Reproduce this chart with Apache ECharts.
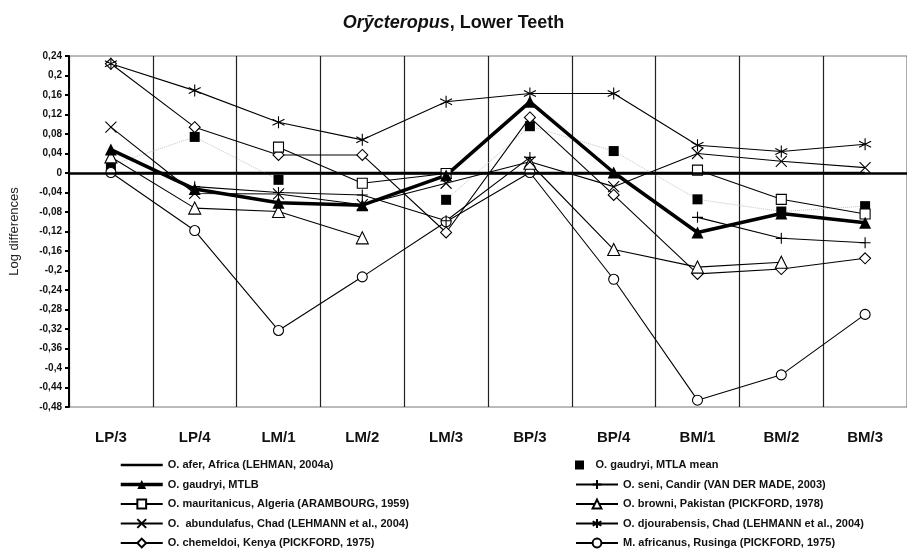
<!DOCTYPE html>
<html>
<head>
<meta charset="utf-8">
<script src="https://cdn.jsdelivr.net/npm/echarts@6/dist/echarts.min.js"></script>
<style>
  html, body { margin: 0; padding: 0; background: #fff; }
  #chart { width: 907px; height: 559px; }
</style>
</head>
<body>
<div id="chart"></div>
<script>
// Lower teeth of Orycteropus: log differences against O. afer
const categories = ['LP/3', 'LP/4', 'LM/1', 'LM/2', 'LM/3', 'BP/3', 'BP/4', 'BM/1', 'BM/2', 'BM/3'];
const afer         = [0, 0, 0, 0, 0, 0, 0, 0, 0, 0];
const gaudryiMTLB  = [0.048, -0.033, -0.061, -0.066, -0.005, 0.146, 0.001, -0.122, -0.083, -0.102];
const gaudryiMTLA  = [0.016, 0.074, -0.014, null, -0.055, 0.096, 0.045, -0.054, -0.079, -0.068];
const mauritanicus = [null, null, 0.053, -0.021, -0.001, null, null, 0.006, -0.054, -0.084];
const seni         = [null, -0.028, -0.040, -0.045, -0.098, 0.032, null, -0.091, -0.134, -0.143];
const abundulafus  = [0.094, -0.042, -0.043, -0.065, -0.021, 0.023, -0.028, 0.040, 0.024, 0.011];
const browni       = [0.033, -0.072, -0.079, -0.133, null, 0.020, -0.157, -0.193, -0.183, null];
const chemeldoi    = [0.224, 0.094, 0.037, 0.037, -0.122, 0.114, -0.045, -0.207, -0.197, -0.175];
const djourabensis = [0.224, 0.169, 0.104, 0.068, 0.146, 0.163, 0.163, 0.057, 0.044, 0.059];
const africanus    = [0.001, -0.118, -0.323, -0.213, -0.100, 0.001, -0.218, -0.466, -0.414, -0.290];
const yTicks = { min: -0.48, max: 0.24, step: 0.04 };

const FONT = '"Liberation Sans", Arial, sans-serif';
const SYM_X = 'path://M0,0L10,10M10,0L0,10';
const SYM_STAR = 'path://M5,0L5,10M0.7,2.5L9.3,7.5M0.7,7.5L9.3,2.5';
const SYM_PLUS = 'path://M5,0L5,10M0,5L10,5';
const SYM_SQUARE = 'path://M0,0L10,0L10,10L0,10Z';
const ICON_THICK_LINE = 'path://M0,0L42,0L42,2.5L0,2.5Z';

const names = {
  afer: 'O. afer, Africa (LEHMAN, 2004a)',
  mtlb: 'O. gaudryi, MTLB',
  maur: 'O. mauritanicus, Algeria (ARAMBOURG, 1959)',
  abun: 'O.  abundulafus, Chad (LEHMANN et al., 2004)',
  chem: 'O. chemeldoi, Kenya (PICKFORD, 1975)',
  mtla: 'O. gaudryi, MTLA mean',
  seni: 'O. seni, Candir (VAN DER MADE, 2003)',
  brow: 'O. browni, Pakistan (PICKFORD, 1978)',
  djou: 'O. djourabensis, Chad (LEHMANN et al., 2004)',
  afri: 'M. africanus, Rusinga (PICKFORD, 1975)'
};

function thinSeries(name, data, symbol, size, filled) {
  return {
    name, type: 'line', data,
    symbol, symbolSize: size, showAllSymbol: true,
    lineStyle: { color: '#000', width: 1.1 },
    itemStyle: { color: filled ? '#000' : '#fff', borderColor: '#000', borderWidth: 1.1 },
    emphasis: { disabled: true }
  };
}

function fmt(v) {
  const r = Math.round(v * 100) / 100;
  return String(r === 0 ? 0 : r).replace('.', ',');
}

const legendText = { fontFamily: FONT, fontWeight: 'bold', fontSize: 11, color: '#111', lineHeight: 12 };

const chart = echarts.init(document.getElementById('chart'), null, { renderer: 'canvas' });
chart.setOption({
  animation: false,
  backgroundColor: '#fff',
  title: {
    text: '{i|Orȳcteropus}{n|, Lower Teeth}',
    left: 'center', top: 9,
    textStyle: {
      rich: {
        i: { fontFamily: FONT, fontStyle: 'italic', fontWeight: 'bold', fontSize: 18, color: '#111' },
        n: { fontFamily: FONT, fontWeight: 'bold', fontSize: 18, color: '#111' }
      }
    }
  },
  grid: { left: 67, top: 56, width: 843, height: 351, show: true, borderColor: '#777', borderWidth: 1 },
  xAxis: {
    type: 'category', data: categories, boundaryGap: true,
    axisLine: { lineStyle: { color: '#444', width: 1 } },
    axisTick: { show: false },
    axisLabel: { fontFamily: FONT, fontWeight: 'bold', fontSize: 15, color: '#111', margin: 23 },
    splitLine: { show: true, interval: 0, lineStyle: { color: '#222', width: 1.2 } }
  },
  yAxis: {
    type: 'value', min: yTicks.min, max: yTicks.max, interval: yTicks.step,
    name: 'Log differences', nameLocation: 'middle', nameRotate: 90, nameGap: 48,
    nameTextStyle: { fontFamily: FONT, fontSize: 13, color: '#222' },
    axisLine: { show: true, lineStyle: { color: '#000', width: 2 } },
    axisTick: { show: true, length: 4, lineStyle: { color: '#000', width: 2 } },
    axisLabel: { fontFamily: FONT, fontWeight: 'bold', fontSize: 10, color: '#111', margin: 7, formatter: fmt },
    splitLine: { show: false }
  },
  legend: [
    {
      orient: 'vertical', left: 119, top: 459, padding: 0,
      itemWidth: 42, itemHeight: 11, itemGap: 7.5,
      selectedMode: false, textStyle: legendText,
      data: [
        { name: names.afer, icon: ICON_THICK_LINE },
        { name: names.mtlb, lineStyle: { width: 3.5 } },
        names.maur, names.abun, names.chem
      ]
    },
    {
      orient: 'vertical', left: 575, top: 478.5, padding: 0,
      itemWidth: 42, itemHeight: 11, itemGap: 7.5,
      selectedMode: false, textStyle: legendText,
      data: [names.seni, names.brow, names.djou, names.afri]
    },
    {
      orient: 'vertical', left: 575, top: 459, padding: 0,
      itemWidth: 22, itemHeight: 9,
      selectedMode: false, textStyle: legendText,
      data: [{ name: names.mtla, icon: SYM_SQUARE }]
    }
  ],
  series: [
    {
      name: names.afer, type: 'line', data: afer, symbol: 'none',
      lineStyle: { color: '#000', width: 2.5 },
      itemStyle: { color: '#000' },
      markLine: {
        silent: true, symbol: 'none', label: { show: false },
        lineStyle: { color: '#000', width: 2.5, type: 'solid' },
        data: [{ yAxis: 0 }]
      }
    },
    {
      name: names.mtla, type: 'line', data: gaudryiMTLA,
      symbol: SYM_SQUARE, symbolSize: 10, showAllSymbol: true,
      lineStyle: { color: '#c4c4c4', width: 1, type: 'dotted' },
      itemStyle: { color: '#000', borderColor: '#000', borderWidth: 0 }
    },
    thinSeries(names.afri, africanus, 'circle', 10, false),
    thinSeries(names.chem, chemeldoi, 'diamond', 11, false),
    thinSeries(names.brow, browni, 'triangle', 12, false),
    thinSeries(names.maur, mauritanicus, 'rect', 10, false),
    thinSeries(names.seni, seni, SYM_PLUS, 11, false),
    thinSeries(names.abun, abundulafus, SYM_X, 11, false),
    thinSeries(names.djou, djourabensis, SYM_STAR, 12, false),
    {
      name: names.mtlb, type: 'line', data: gaudryiMTLB,
      symbol: 'triangle', symbolSize: 12, showAllSymbol: true,
      lineStyle: { color: '#000', width: 3.5 },
      itemStyle: { color: '#000', borderColor: '#000', borderWidth: 0 }
    }
  ]
});
</script>
</body>
</html>
